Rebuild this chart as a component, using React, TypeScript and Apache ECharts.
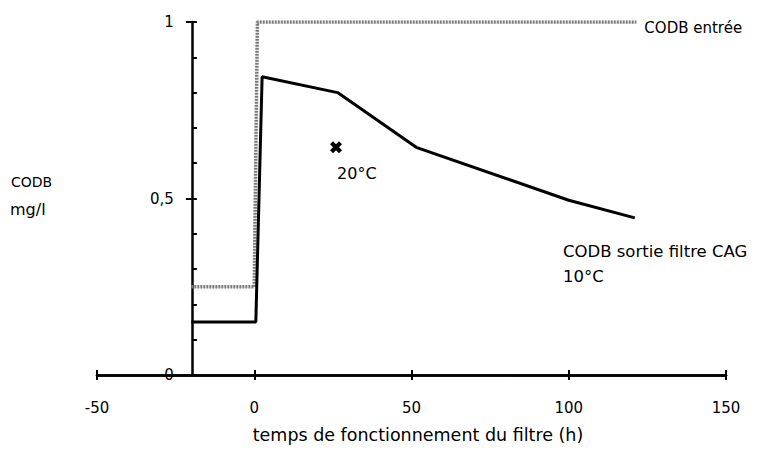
import React, { useEffect, useRef } from "react";
import * as echarts from "echarts";

const xTicks = [-50, 0, 50, 100, 150];
const codbEntree: [number, number][] = [
  [-20, 0.25],
  [0, 0.25],
  [1, 1],
  [121.5, 1],
];
const codbSortie: [number, number][] = [
  [-20, 0.15],
  [0.5, 0.15],
  [2.5, 0.845],
  [26.5, 0.8],
  [51.5, 0.645],
  [100, 0.495],
  [121, 0.445],
];
const point20C: [number, number][] = [[26, 0.645]];
const yAxisPosition = -20;

const FONT = "'DejaVu Sans', 'Liberation Sans', Arial, sans-serif";
const xPx = (v: number) => 254.8 + 3.145 * v;

export default function App() {
  const ref = useRef<HTMLDivElement>(null);
  useEffect(() => {
    if (!ref.current) return;
    const chart = echarts.init(ref.current, undefined, { renderer: "svg" });
    const crossPath =
      "path://M0,2.5 L2.5,0 L5,2.5 L7.5,0 L10,2.5 L7.5,5 L10,7.5 L7.5,10 L5,7.5 L2.5,10 L0,7.5 L2.5,5 Z";
    chart.setOption({
      animation: false,
      backgroundColor: "#fff",
      textStyle: { fontFamily: FONT },
      grid: [
        { left: 97, width: 629, top: 22, height: 353 },
        { left: xPx(yAxisPosition), width: 10, top: 22, height: 353 },
      ],
      xAxis: [
        {
          type: "value",
          gridIndex: 0,
          min: xTicks[0],
          max: xTicks[xTicks.length - 1],
          interval: 50,
          position: "bottom",
          splitLine: { show: false },
          axisLine: { show: true, lineStyle: { color: "#000", width: 2.5 } },
          axisTick: { show: true, inside: true, length: 5, lineStyle: { color: "#000", width: 2 } },
          axisLabel: {
            color: "#000",
            fontSize: 15,
            fontFamily: FONT,
            margin: 25,
            formatter: (v: number) => String(v),
          },
        },
        {
          type: "value",
          gridIndex: 0,
          min: xTicks[0],
          max: xTicks[xTicks.length - 1],
          interval: 50,
          position: "bottom",
          splitLine: { show: false },
          axisLine: { show: true, lineStyle: { color: "#000", width: 2.5 } },
          axisTick: { show: true, inside: false, length: 5, lineStyle: { color: "#000", width: 2 } },
          axisLabel: { show: false },
        },
        {
          type: "value",
          gridIndex: 1,
          min: 0,
          max: 1,
          show: false,
        },
      ],
      yAxis: [
        { type: "value", gridIndex: 0, min: 0, max: 1, show: false },
        {
          type: "value",
          gridIndex: 1,
          min: 0,
          max: 1,
          interval: 0.1,
          position: "left",
          splitLine: { show: false },
          axisLine: { show: true, lineStyle: { color: "#000", width: 2.5 } },
          axisTick: { show: true, inside: true, length: 5, lineStyle: { color: "#000", width: 2 } },
          axisLabel: {
            color: "#000",
            fontSize: 15,
            fontFamily: FONT,
            margin: 18,
            formatter: (v: number) => {
              const r = Math.round(v * 10) / 10;
              if (r === 0) return "0";
              if (r === 0.5) return "0,5";
              if (r === 1) return "1";
              return "";
            },
          },
        },
        {
          type: "value",
          gridIndex: 1,
          min: 0,
          max: 1,
          interval: 0.5,
          position: "left",
          splitLine: { show: false },
          axisLine: { show: false },
          axisTick: { show: true, inside: false, length: 6, lineStyle: { color: "#000", width: 2 } },
          axisLabel: { show: false },
        },
      ],
      series: [
        {
          type: "line",
          xAxisIndex: 0,
          yAxisIndex: 0,
          data: codbEntree,
          symbol: "none",
          lineStyle: { color: "#7a7a7a", width: 3.5, type: [2, 1] },
          endLabel: {
            show: true,
            formatter: "CODB entrée",
            color: "#000",
            fontSize: 15,
            fontFamily: FONT,
            distance: 8,
            offset: [0, 6],
          },
          z: 2,
        },
        {
          type: "line",
          xAxisIndex: 0,
          yAxisIndex: 0,
          data: codbSortie,
          symbol: "none",
          lineStyle: { color: "#000", width: 3 },
          z: 3,
        },
        {
          type: "scatter",
          xAxisIndex: 0,
          yAxisIndex: 0,
          data: point20C,
          symbol: crossPath,
          symbolSize: 12,
          itemStyle: { color: "#000", opacity: 1 },
          label: {
            show: true,
            formatter: "20°C",
            position: [7, 24],
            color: "#000",
            fontSize: 16,
            fontFamily: FONT,
          },
          z: 4,
        },
      ],
      graphic: [
        {
          type: "text",
          left: 11,
          top: 175,
          style: { text: "CODB", fontSize: 14, fontFamily: FONT, fill: "#000" },
        },
        {
          type: "text",
          left: 10,
          top: 201,
          style: { text: "mg/l", fontSize: 16, fontFamily: FONT, fill: "#000" },
        },
        {
          type: "text",
          left: 563,
          top: 239,
          style: {
            text: "CODB sortie filtre CAG\n10°C",
            fontSize: 16.5,
            lineHeight: 25,
            fontFamily: FONT,
            fill: "#000",
          },
        },
        {
          type: "text",
          x: 418,
          y: 435,
          style: {
            text: "temps de fonctionnement du filtre (h)",
            fontSize: 17.5,
            fontFamily: FONT,
            fill: "#000",
            align: "center",
            verticalAlign: "middle",
          },
        },
      ],
    });
    return () => chart.dispose();
  }, []);
  return <div ref={ref} style={{ width: 759, height: 451, position: "absolute", left: 0, top: 0 }} />;
}
